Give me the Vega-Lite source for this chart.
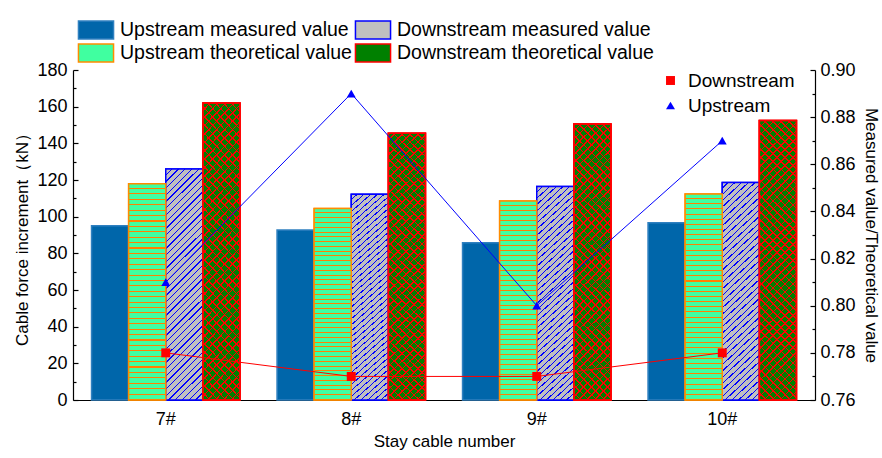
{
  "$schema": "https://vega.github.io/schema/vega-lite/v6.json",
  "width": 742,
  "height": 330,
  "autosize": {"type": "none"},
  "padding": {"left": 73, "top": 70, "right": 67, "bottom": 58},
  "background": "white",
  "config": {
    "font": "Liberation Sans",
    "view": {"stroke": null},
    "axis": {
      "labelFont": "Liberation Sans", "titleFont": "Liberation Sans",
      "labelFontSize": 18, "titleFontSize": 17, "labelColor": "black", "titleColor": "black",
      "titleFontWeight": "normal", "domainColor": "black", "tickColor": "black", "grid": false,
      "domainWidth": 1.2, "tickWidth": 1.2
    },
    "legend": {"labelFont": "Liberation Sans", "labelFontSize": 19.5, "labelColor": "black", "labelLimit": 400}
  },
  "datasets": {
    "force": [
      {"cable": "7#", "type": "Upstream measured value", "value": 95},
      {"cable": "7#", "type": "Upstream theoretical value", "value": 118},
      {"cable": "7#", "type": "Downstream measured value", "value": 126},
      {"cable": "7#", "type": "Downstream theoretical value", "value": 162},
      {"cable": "8#", "type": "Upstream measured value", "value": 92.7},
      {"cable": "8#", "type": "Upstream theoretical value", "value": 104.4},
      {"cable": "8#", "type": "Downstream measured value", "value": 112.2},
      {"cable": "8#", "type": "Downstream theoretical value", "value": 145.5},
      {"cable": "9#", "type": "Upstream measured value", "value": 85.8},
      {"cable": "9#", "type": "Upstream theoretical value", "value": 108.5},
      {"cable": "9#", "type": "Downstream measured value", "value": 116.4},
      {"cable": "9#", "type": "Downstream theoretical value", "value": 150.5},
      {"cable": "10#", "type": "Upstream measured value", "value": 96.7},
      {"cable": "10#", "type": "Upstream theoretical value", "value": 112.4},
      {"cable": "10#", "type": "Downstream measured value", "value": 118.7},
      {"cable": "10#", "type": "Downstream theoretical value", "value": 152.4}
    ],
    "ratio": [
      {"cable": "7#", "dir": "Downstream", "ratio": 0.78},
      {"cable": "8#", "dir": "Downstream", "ratio": 0.77},
      {"cable": "9#", "dir": "Downstream", "ratio": 0.77},
      {"cable": "10#", "dir": "Downstream", "ratio": 0.78},
      {"cable": "7#", "dir": "Upstream", "ratio": 0.81},
      {"cable": "8#", "dir": "Upstream", "ratio": 0.89},
      {"cable": "9#", "dir": "Upstream", "ratio": 0.80},
      {"cable": "10#", "dir": "Upstream", "ratio": 0.87}
    ]
  },
  "encoding": {
    "x": {
      "field": "cable", "type": "nominal", "sort": ["7#", "8#", "9#", "10#"],
      "scale": {"paddingInner": 0.2, "paddingOuter": 0.1},
      "axis": {"title": "Stay cable number", "labelAngle": 0, "tickSize": -5, "labelPadding": 15, "titlePadding": 5}
    }
  },
  "layer": [
    {
      "data": {"name": "force"},
      "encoding": {
        "xOffset": {"field": "type", "type": "nominal", "scale": {"domain": ["Upstream measured value", "Upstream theoretical value", "Downstream measured value", "Downstream theoretical value"], "paddingInner": 0, "paddingOuter": 0}},
        "y": {
          "field": "value", "type": "quantitative",
          "scale": {"domain": [0, 180], "nice": false},
          "axis": {"orient": "left", "title": "Cable force increment（kN）", "values": [0, 20, 40, 60, 80, 100, 120, 140, 160, 180], "tickSize": -5, "labelPadding": 11, "titlePadding": 5}
        }
      },
      "layer": [
        {
          "mark": {"type": "bar", "strokeWidth": 1.5},
          "encoding": {
            "fill": {
              "field": "type", "type": "nominal",
              "scale": {
                "domain": ["Upstream measured value", "Downstream measured value", "Upstream theoretical value", "Downstream theoretical value"],
                "range": ["#0066aa", "#c0c0c0", "#40ffa0", "#008000"]
              },
              "legend": {"title": null, "orient": "none", "legendX": 13, "legendY": -50, "direction": "horizontal", "columns": 2, "symbolType": "M-1.95,-1H1.95V1H-1.95Z", "symbolSize": 324, "symbolStrokeWidth": 1.5, "labelOffset": 14, "columnPadding": 0, "rowPadding": -1}
            },
            "stroke": {
              "field": "type", "type": "nominal",
              "scale": {
                "domain": ["Upstream measured value", "Downstream measured value", "Upstream theoretical value", "Downstream theoretical value"],
                "range": ["#2f80c0", "#0000ff", "#ff8c00", "#ff0000"]
              },
              "legend": {"title": null, "orient": "none", "legendX": 13, "legendY": -50, "direction": "horizontal", "columns": 2, "symbolType": "M-1.95,-1H1.95V1H-1.95Z", "symbolSize": 324, "symbolStrokeWidth": 1.5, "labelOffset": 14, "columnPadding": 0, "rowPadding": -1}
            }
          }
        },
        {
          "transform": [{"filter": "datum.type === 'Downstream measured value'"}],
          "mark": {"type": "bar", "stroke": "#0000ff", "strokeWidth": 1.5, "fill": {"gradient": "linear", "x1": 0, "y1": 0, "x2": 0.181, "y2": 1.131, "stops": [
{"offset":0,"color":"#c0c0c0"},{"offset":0.02,"color":"#c0c0c0"},{"offset":0.02,"color":"#00f"},{"offset":0.025,"color":"#00f"},
{"offset":0.025,"color":"#c0c0c0"},{"offset":0.045,"color":"#c0c0c0"},{"offset":0.045,"color":"#00f"},{"offset":0.05,"color":"#00f"},
{"offset":0.05,"color":"#c0c0c0"},{"offset":0.07,"color":"#c0c0c0"},{"offset":0.07,"color":"#00f"},{"offset":0.075,"color":"#00f"},
{"offset":0.075,"color":"#c0c0c0"},{"offset":0.095,"color":"#c0c0c0"},{"offset":0.095,"color":"#00f"},{"offset":0.1,"color":"#00f"},
{"offset":0.1,"color":"#c0c0c0"},{"offset":0.12,"color":"#c0c0c0"},{"offset":0.12,"color":"#00f"},{"offset":0.125,"color":"#00f"},
{"offset":0.125,"color":"#c0c0c0"},{"offset":0.145,"color":"#c0c0c0"},{"offset":0.145,"color":"#00f"},{"offset":0.15,"color":"#00f"},
{"offset":0.15,"color":"#c0c0c0"},{"offset":0.17,"color":"#c0c0c0"},{"offset":0.17,"color":"#00f"},{"offset":0.175,"color":"#00f"},
{"offset":0.175,"color":"#c0c0c0"},{"offset":0.195,"color":"#c0c0c0"},{"offset":0.195,"color":"#00f"},{"offset":0.2,"color":"#00f"},
{"offset":0.2,"color":"#c0c0c0"},{"offset":0.22,"color":"#c0c0c0"},{"offset":0.22,"color":"#00f"},{"offset":0.225,"color":"#00f"},
{"offset":0.225,"color":"#c0c0c0"},{"offset":0.245,"color":"#c0c0c0"},{"offset":0.245,"color":"#00f"},{"offset":0.25,"color":"#00f"},
{"offset":0.25,"color":"#c0c0c0"},{"offset":0.27,"color":"#c0c0c0"},{"offset":0.27,"color":"#00f"},{"offset":0.275,"color":"#00f"},
{"offset":0.275,"color":"#c0c0c0"},{"offset":0.295,"color":"#c0c0c0"},{"offset":0.295,"color":"#00f"},{"offset":0.3,"color":"#00f"},
{"offset":0.3,"color":"#c0c0c0"},{"offset":0.32,"color":"#c0c0c0"},{"offset":0.32,"color":"#00f"},{"offset":0.325,"color":"#00f"},
{"offset":0.325,"color":"#c0c0c0"},{"offset":0.345,"color":"#c0c0c0"},{"offset":0.345,"color":"#00f"},{"offset":0.35,"color":"#00f"},
{"offset":0.35,"color":"#c0c0c0"},{"offset":0.37,"color":"#c0c0c0"},{"offset":0.37,"color":"#00f"},{"offset":0.375,"color":"#00f"},
{"offset":0.375,"color":"#c0c0c0"},{"offset":0.395,"color":"#c0c0c0"},{"offset":0.395,"color":"#00f"},{"offset":0.4,"color":"#00f"},
{"offset":0.4,"color":"#c0c0c0"},{"offset":0.42,"color":"#c0c0c0"},{"offset":0.42,"color":"#00f"},{"offset":0.425,"color":"#00f"},
{"offset":0.425,"color":"#c0c0c0"},{"offset":0.445,"color":"#c0c0c0"},{"offset":0.445,"color":"#00f"},{"offset":0.45,"color":"#00f"},
{"offset":0.45,"color":"#c0c0c0"},{"offset":0.47,"color":"#c0c0c0"},{"offset":0.47,"color":"#00f"},{"offset":0.475,"color":"#00f"},
{"offset":0.475,"color":"#c0c0c0"},{"offset":0.495,"color":"#c0c0c0"},{"offset":0.495,"color":"#00f"},{"offset":0.5,"color":"#00f"},
{"offset":0.5,"color":"#c0c0c0"},{"offset":0.52,"color":"#c0c0c0"},{"offset":0.52,"color":"#00f"},{"offset":0.525,"color":"#00f"},
{"offset":0.525,"color":"#c0c0c0"},{"offset":0.545,"color":"#c0c0c0"},{"offset":0.545,"color":"#00f"},{"offset":0.55,"color":"#00f"},
{"offset":0.55,"color":"#c0c0c0"},{"offset":0.57,"color":"#c0c0c0"},{"offset":0.57,"color":"#00f"},{"offset":0.575,"color":"#00f"},
{"offset":0.575,"color":"#c0c0c0"},{"offset":0.595,"color":"#c0c0c0"},{"offset":0.595,"color":"#00f"},{"offset":0.6,"color":"#00f"},
{"offset":0.6,"color":"#c0c0c0"},{"offset":0.62,"color":"#c0c0c0"},{"offset":0.62,"color":"#00f"},{"offset":0.625,"color":"#00f"},
{"offset":0.625,"color":"#c0c0c0"},{"offset":0.645,"color":"#c0c0c0"},{"offset":0.645,"color":"#00f"},{"offset":0.65,"color":"#00f"},
{"offset":0.65,"color":"#c0c0c0"},{"offset":0.67,"color":"#c0c0c0"},{"offset":0.67,"color":"#00f"},{"offset":0.675,"color":"#00f"},
{"offset":0.675,"color":"#c0c0c0"},{"offset":0.695,"color":"#c0c0c0"},{"offset":0.695,"color":"#00f"},{"offset":0.7,"color":"#00f"},
{"offset":0.7,"color":"#c0c0c0"},{"offset":0.72,"color":"#c0c0c0"},{"offset":0.72,"color":"#00f"},{"offset":0.725,"color":"#00f"},
{"offset":0.725,"color":"#c0c0c0"},{"offset":0.745,"color":"#c0c0c0"},{"offset":0.745,"color":"#00f"},{"offset":0.75,"color":"#00f"},
{"offset":0.75,"color":"#c0c0c0"},{"offset":0.77,"color":"#c0c0c0"},{"offset":0.77,"color":"#00f"},{"offset":0.775,"color":"#00f"},
{"offset":0.775,"color":"#c0c0c0"},{"offset":0.795,"color":"#c0c0c0"},{"offset":0.795,"color":"#00f"},{"offset":0.8,"color":"#00f"},
{"offset":0.8,"color":"#c0c0c0"},{"offset":0.82,"color":"#c0c0c0"},{"offset":0.82,"color":"#00f"},{"offset":0.825,"color":"#00f"},
{"offset":0.825,"color":"#c0c0c0"},{"offset":0.845,"color":"#c0c0c0"},{"offset":0.845,"color":"#00f"},{"offset":0.85,"color":"#00f"},
{"offset":0.85,"color":"#c0c0c0"},{"offset":0.87,"color":"#c0c0c0"},{"offset":0.87,"color":"#00f"},{"offset":0.875,"color":"#00f"},
{"offset":0.875,"color":"#c0c0c0"},{"offset":0.895,"color":"#c0c0c0"},{"offset":0.895,"color":"#00f"},{"offset":0.9,"color":"#00f"},
{"offset":0.9,"color":"#c0c0c0"},{"offset":0.92,"color":"#c0c0c0"},{"offset":0.92,"color":"#00f"},{"offset":0.925,"color":"#00f"},
{"offset":0.925,"color":"#c0c0c0"},{"offset":0.945,"color":"#c0c0c0"},{"offset":0.945,"color":"#00f"},{"offset":0.95,"color":"#00f"},
{"offset":0.95,"color":"#c0c0c0"},{"offset":0.97,"color":"#c0c0c0"},{"offset":0.97,"color":"#00f"},{"offset":0.975,"color":"#00f"},
{"offset":0.975,"color":"#c0c0c0"},{"offset":0.995,"color":"#c0c0c0"},{"offset":0.995,"color":"#00f"},{"offset":1,"color":"#00f"}
          ]}}
        },
        {
          "transform": [{"filter": "datum.type === 'Upstream theoretical value'"}],
          "mark": {"type": "bar", "stroke": "#ff8c00", "strokeWidth": 1.5, "fill": {"gradient": "linear", "x1": 0, "y1": 0, "x2": 0, "y2": 1, "stops": [
{"offset":0,"color":"#40ffa0"},{"offset":0.02,"color":"#40ffa0"},{"offset":0.02,"color":"#ff8000"},{"offset":0.025,"color":"#ff8000"},
{"offset":0.025,"color":"#40ffa0"},{"offset":0.045,"color":"#40ffa0"},{"offset":0.045,"color":"#ff8000"},{"offset":0.05,"color":"#ff8000"},
{"offset":0.05,"color":"#40ffa0"},{"offset":0.07,"color":"#40ffa0"},{"offset":0.07,"color":"#ff8000"},{"offset":0.075,"color":"#ff8000"},
{"offset":0.075,"color":"#40ffa0"},{"offset":0.095,"color":"#40ffa0"},{"offset":0.095,"color":"#ff8000"},{"offset":0.1,"color":"#ff8000"},
{"offset":0.1,"color":"#40ffa0"},{"offset":0.12,"color":"#40ffa0"},{"offset":0.12,"color":"#ff8000"},{"offset":0.125,"color":"#ff8000"},
{"offset":0.125,"color":"#40ffa0"},{"offset":0.145,"color":"#40ffa0"},{"offset":0.145,"color":"#ff8000"},{"offset":0.15,"color":"#ff8000"},
{"offset":0.15,"color":"#40ffa0"},{"offset":0.17,"color":"#40ffa0"},{"offset":0.17,"color":"#ff8000"},{"offset":0.175,"color":"#ff8000"},
{"offset":0.175,"color":"#40ffa0"},{"offset":0.195,"color":"#40ffa0"},{"offset":0.195,"color":"#ff8000"},{"offset":0.2,"color":"#ff8000"},
{"offset":0.2,"color":"#40ffa0"},{"offset":0.22,"color":"#40ffa0"},{"offset":0.22,"color":"#ff8000"},{"offset":0.225,"color":"#ff8000"},
{"offset":0.225,"color":"#40ffa0"},{"offset":0.245,"color":"#40ffa0"},{"offset":0.245,"color":"#ff8000"},{"offset":0.25,"color":"#ff8000"},
{"offset":0.25,"color":"#40ffa0"},{"offset":0.27,"color":"#40ffa0"},{"offset":0.27,"color":"#ff8000"},{"offset":0.275,"color":"#ff8000"},
{"offset":0.275,"color":"#40ffa0"},{"offset":0.295,"color":"#40ffa0"},{"offset":0.295,"color":"#ff8000"},{"offset":0.3,"color":"#ff8000"},
{"offset":0.3,"color":"#40ffa0"},{"offset":0.32,"color":"#40ffa0"},{"offset":0.32,"color":"#ff8000"},{"offset":0.325,"color":"#ff8000"},
{"offset":0.325,"color":"#40ffa0"},{"offset":0.345,"color":"#40ffa0"},{"offset":0.345,"color":"#ff8000"},{"offset":0.35,"color":"#ff8000"},
{"offset":0.35,"color":"#40ffa0"},{"offset":0.37,"color":"#40ffa0"},{"offset":0.37,"color":"#ff8000"},{"offset":0.375,"color":"#ff8000"},
{"offset":0.375,"color":"#40ffa0"},{"offset":0.395,"color":"#40ffa0"},{"offset":0.395,"color":"#ff8000"},{"offset":0.4,"color":"#ff8000"},
{"offset":0.4,"color":"#40ffa0"},{"offset":0.42,"color":"#40ffa0"},{"offset":0.42,"color":"#ff8000"},{"offset":0.425,"color":"#ff8000"},
{"offset":0.425,"color":"#40ffa0"},{"offset":0.445,"color":"#40ffa0"},{"offset":0.445,"color":"#ff8000"},{"offset":0.45,"color":"#ff8000"},
{"offset":0.45,"color":"#40ffa0"},{"offset":0.47,"color":"#40ffa0"},{"offset":0.47,"color":"#ff8000"},{"offset":0.475,"color":"#ff8000"},
{"offset":0.475,"color":"#40ffa0"},{"offset":0.495,"color":"#40ffa0"},{"offset":0.495,"color":"#ff8000"},{"offset":0.5,"color":"#ff8000"},
{"offset":0.5,"color":"#40ffa0"},{"offset":0.52,"color":"#40ffa0"},{"offset":0.52,"color":"#ff8000"},{"offset":0.525,"color":"#ff8000"},
{"offset":0.525,"color":"#40ffa0"},{"offset":0.545,"color":"#40ffa0"},{"offset":0.545,"color":"#ff8000"},{"offset":0.55,"color":"#ff8000"},
{"offset":0.55,"color":"#40ffa0"},{"offset":0.57,"color":"#40ffa0"},{"offset":0.57,"color":"#ff8000"},{"offset":0.575,"color":"#ff8000"},
{"offset":0.575,"color":"#40ffa0"},{"offset":0.595,"color":"#40ffa0"},{"offset":0.595,"color":"#ff8000"},{"offset":0.6,"color":"#ff8000"},
{"offset":0.6,"color":"#40ffa0"},{"offset":0.62,"color":"#40ffa0"},{"offset":0.62,"color":"#ff8000"},{"offset":0.625,"color":"#ff8000"},
{"offset":0.625,"color":"#40ffa0"},{"offset":0.645,"color":"#40ffa0"},{"offset":0.645,"color":"#ff8000"},{"offset":0.65,"color":"#ff8000"},
{"offset":0.65,"color":"#40ffa0"},{"offset":0.67,"color":"#40ffa0"},{"offset":0.67,"color":"#ff8000"},{"offset":0.675,"color":"#ff8000"},
{"offset":0.675,"color":"#40ffa0"},{"offset":0.695,"color":"#40ffa0"},{"offset":0.695,"color":"#ff8000"},{"offset":0.7,"color":"#ff8000"},
{"offset":0.7,"color":"#40ffa0"},{"offset":0.72,"color":"#40ffa0"},{"offset":0.72,"color":"#ff8000"},{"offset":0.725,"color":"#ff8000"},
{"offset":0.725,"color":"#40ffa0"},{"offset":0.745,"color":"#40ffa0"},{"offset":0.745,"color":"#ff8000"},{"offset":0.75,"color":"#ff8000"},
{"offset":0.75,"color":"#40ffa0"},{"offset":0.77,"color":"#40ffa0"},{"offset":0.77,"color":"#ff8000"},{"offset":0.775,"color":"#ff8000"},
{"offset":0.775,"color":"#40ffa0"},{"offset":0.795,"color":"#40ffa0"},{"offset":0.795,"color":"#ff8000"},{"offset":0.8,"color":"#ff8000"},
{"offset":0.8,"color":"#40ffa0"},{"offset":0.82,"color":"#40ffa0"},{"offset":0.82,"color":"#ff8000"},{"offset":0.825,"color":"#ff8000"},
{"offset":0.825,"color":"#40ffa0"},{"offset":0.845,"color":"#40ffa0"},{"offset":0.845,"color":"#ff8000"},{"offset":0.85,"color":"#ff8000"},
{"offset":0.85,"color":"#40ffa0"},{"offset":0.87,"color":"#40ffa0"},{"offset":0.87,"color":"#ff8000"},{"offset":0.875,"color":"#ff8000"},
{"offset":0.875,"color":"#40ffa0"},{"offset":0.895,"color":"#40ffa0"},{"offset":0.895,"color":"#ff8000"},{"offset":0.9,"color":"#ff8000"},
{"offset":0.9,"color":"#40ffa0"},{"offset":0.92,"color":"#40ffa0"},{"offset":0.92,"color":"#ff8000"},{"offset":0.925,"color":"#ff8000"},
{"offset":0.925,"color":"#40ffa0"},{"offset":0.945,"color":"#40ffa0"},{"offset":0.945,"color":"#ff8000"},{"offset":0.95,"color":"#ff8000"},
{"offset":0.95,"color":"#40ffa0"},{"offset":0.97,"color":"#40ffa0"},{"offset":0.97,"color":"#ff8000"},{"offset":0.975,"color":"#ff8000"},
{"offset":0.975,"color":"#40ffa0"},{"offset":0.995,"color":"#40ffa0"},{"offset":0.995,"color":"#ff8000"},{"offset":1,"color":"#ff8000"}
          ]}}
        },
        {
          "transform": [{"filter": "datum.type === 'Downstream theoretical value'"}],
          "mark": {"type": "bar", "stroke": "#ff0000", "strokeWidth": 1.5, "fill": {"gradient": "linear", "x1": 0, "y1": 0, "x2": 0.147, "y2": 1.113, "stops": [
{"offset":0,"color":"#008000"},{"offset":0.02,"color":"#008000"},{"offset":0.02,"color":"#f00"},{"offset":0.025,"color":"#f00"},
{"offset":0.025,"color":"#008000"},{"offset":0.045,"color":"#008000"},{"offset":0.045,"color":"#f00"},{"offset":0.05,"color":"#f00"},
{"offset":0.05,"color":"#008000"},{"offset":0.07,"color":"#008000"},{"offset":0.07,"color":"#f00"},{"offset":0.075,"color":"#f00"},
{"offset":0.075,"color":"#008000"},{"offset":0.095,"color":"#008000"},{"offset":0.095,"color":"#f00"},{"offset":0.1,"color":"#f00"},
{"offset":0.1,"color":"#008000"},{"offset":0.12,"color":"#008000"},{"offset":0.12,"color":"#f00"},{"offset":0.125,"color":"#f00"},
{"offset":0.125,"color":"#008000"},{"offset":0.145,"color":"#008000"},{"offset":0.145,"color":"#f00"},{"offset":0.15,"color":"#f00"},
{"offset":0.15,"color":"#008000"},{"offset":0.17,"color":"#008000"},{"offset":0.17,"color":"#f00"},{"offset":0.175,"color":"#f00"},
{"offset":0.175,"color":"#008000"},{"offset":0.195,"color":"#008000"},{"offset":0.195,"color":"#f00"},{"offset":0.2,"color":"#f00"},
{"offset":0.2,"color":"#008000"},{"offset":0.22,"color":"#008000"},{"offset":0.22,"color":"#f00"},{"offset":0.225,"color":"#f00"},
{"offset":0.225,"color":"#008000"},{"offset":0.245,"color":"#008000"},{"offset":0.245,"color":"#f00"},{"offset":0.25,"color":"#f00"},
{"offset":0.25,"color":"#008000"},{"offset":0.27,"color":"#008000"},{"offset":0.27,"color":"#f00"},{"offset":0.275,"color":"#f00"},
{"offset":0.275,"color":"#008000"},{"offset":0.295,"color":"#008000"},{"offset":0.295,"color":"#f00"},{"offset":0.3,"color":"#f00"},
{"offset":0.3,"color":"#008000"},{"offset":0.32,"color":"#008000"},{"offset":0.32,"color":"#f00"},{"offset":0.325,"color":"#f00"},
{"offset":0.325,"color":"#008000"},{"offset":0.345,"color":"#008000"},{"offset":0.345,"color":"#f00"},{"offset":0.35,"color":"#f00"},
{"offset":0.35,"color":"#008000"},{"offset":0.37,"color":"#008000"},{"offset":0.37,"color":"#f00"},{"offset":0.375,"color":"#f00"},
{"offset":0.375,"color":"#008000"},{"offset":0.395,"color":"#008000"},{"offset":0.395,"color":"#f00"},{"offset":0.4,"color":"#f00"},
{"offset":0.4,"color":"#008000"},{"offset":0.42,"color":"#008000"},{"offset":0.42,"color":"#f00"},{"offset":0.425,"color":"#f00"},
{"offset":0.425,"color":"#008000"},{"offset":0.445,"color":"#008000"},{"offset":0.445,"color":"#f00"},{"offset":0.45,"color":"#f00"},
{"offset":0.45,"color":"#008000"},{"offset":0.47,"color":"#008000"},{"offset":0.47,"color":"#f00"},{"offset":0.475,"color":"#f00"},
{"offset":0.475,"color":"#008000"},{"offset":0.495,"color":"#008000"},{"offset":0.495,"color":"#f00"},{"offset":0.5,"color":"#f00"},
{"offset":0.5,"color":"#008000"},{"offset":0.52,"color":"#008000"},{"offset":0.52,"color":"#f00"},{"offset":0.525,"color":"#f00"},
{"offset":0.525,"color":"#008000"},{"offset":0.545,"color":"#008000"},{"offset":0.545,"color":"#f00"},{"offset":0.55,"color":"#f00"},
{"offset":0.55,"color":"#008000"},{"offset":0.57,"color":"#008000"},{"offset":0.57,"color":"#f00"},{"offset":0.575,"color":"#f00"},
{"offset":0.575,"color":"#008000"},{"offset":0.595,"color":"#008000"},{"offset":0.595,"color":"#f00"},{"offset":0.6,"color":"#f00"},
{"offset":0.6,"color":"#008000"},{"offset":0.62,"color":"#008000"},{"offset":0.62,"color":"#f00"},{"offset":0.625,"color":"#f00"},
{"offset":0.625,"color":"#008000"},{"offset":0.645,"color":"#008000"},{"offset":0.645,"color":"#f00"},{"offset":0.65,"color":"#f00"},
{"offset":0.65,"color":"#008000"},{"offset":0.67,"color":"#008000"},{"offset":0.67,"color":"#f00"},{"offset":0.675,"color":"#f00"},
{"offset":0.675,"color":"#008000"},{"offset":0.695,"color":"#008000"},{"offset":0.695,"color":"#f00"},{"offset":0.7,"color":"#f00"},
{"offset":0.7,"color":"#008000"},{"offset":0.72,"color":"#008000"},{"offset":0.72,"color":"#f00"},{"offset":0.725,"color":"#f00"},
{"offset":0.725,"color":"#008000"},{"offset":0.745,"color":"#008000"},{"offset":0.745,"color":"#f00"},{"offset":0.75,"color":"#f00"},
{"offset":0.75,"color":"#008000"},{"offset":0.77,"color":"#008000"},{"offset":0.77,"color":"#f00"},{"offset":0.775,"color":"#f00"},
{"offset":0.775,"color":"#008000"},{"offset":0.795,"color":"#008000"},{"offset":0.795,"color":"#f00"},{"offset":0.8,"color":"#f00"},
{"offset":0.8,"color":"#008000"},{"offset":0.82,"color":"#008000"},{"offset":0.82,"color":"#f00"},{"offset":0.825,"color":"#f00"},
{"offset":0.825,"color":"#008000"},{"offset":0.845,"color":"#008000"},{"offset":0.845,"color":"#f00"},{"offset":0.85,"color":"#f00"},
{"offset":0.85,"color":"#008000"},{"offset":0.87,"color":"#008000"},{"offset":0.87,"color":"#f00"},{"offset":0.875,"color":"#f00"},
{"offset":0.875,"color":"#008000"},{"offset":0.895,"color":"#008000"},{"offset":0.895,"color":"#f00"},{"offset":0.9,"color":"#f00"},
{"offset":0.9,"color":"#008000"},{"offset":0.92,"color":"#008000"},{"offset":0.92,"color":"#f00"},{"offset":0.925,"color":"#f00"},
{"offset":0.925,"color":"#008000"},{"offset":0.945,"color":"#008000"},{"offset":0.945,"color":"#f00"},{"offset":0.95,"color":"#f00"},
{"offset":0.95,"color":"#008000"},{"offset":0.97,"color":"#008000"},{"offset":0.97,"color":"#f00"},{"offset":0.975,"color":"#f00"},
{"offset":0.975,"color":"#008000"},{"offset":0.995,"color":"#008000"},{"offset":0.995,"color":"#f00"},{"offset":1,"color":"#f00"}
          ]}}
        },
        {
          "transform": [{"filter": "datum.type === 'Downstream theoretical value'"}],
          "mark": {"type": "bar", "stroke": "#ff0000", "strokeWidth": 1.5, "fill": {"gradient": "linear", "x1": 0, "y1": 1, "x2": 0.147, "y2": -0.113, "stops": [
{"offset":0,"color":"rgba(0,0,0,0)"},{"offset":0.02,"color":"rgba(0,0,0,0)"},{"offset":0.02,"color":"#f00"},{"offset":0.025,"color":"#f00"},
{"offset":0.025,"color":"rgba(0,0,0,0)"},{"offset":0.045,"color":"rgba(0,0,0,0)"},{"offset":0.045,"color":"#f00"},{"offset":0.05,"color":"#f00"},
{"offset":0.05,"color":"rgba(0,0,0,0)"},{"offset":0.07,"color":"rgba(0,0,0,0)"},{"offset":0.07,"color":"#f00"},{"offset":0.075,"color":"#f00"},
{"offset":0.075,"color":"rgba(0,0,0,0)"},{"offset":0.095,"color":"rgba(0,0,0,0)"},{"offset":0.095,"color":"#f00"},{"offset":0.1,"color":"#f00"},
{"offset":0.1,"color":"rgba(0,0,0,0)"},{"offset":0.12,"color":"rgba(0,0,0,0)"},{"offset":0.12,"color":"#f00"},{"offset":0.125,"color":"#f00"},
{"offset":0.125,"color":"rgba(0,0,0,0)"},{"offset":0.145,"color":"rgba(0,0,0,0)"},{"offset":0.145,"color":"#f00"},{"offset":0.15,"color":"#f00"},
{"offset":0.15,"color":"rgba(0,0,0,0)"},{"offset":0.17,"color":"rgba(0,0,0,0)"},{"offset":0.17,"color":"#f00"},{"offset":0.175,"color":"#f00"},
{"offset":0.175,"color":"rgba(0,0,0,0)"},{"offset":0.195,"color":"rgba(0,0,0,0)"},{"offset":0.195,"color":"#f00"},{"offset":0.2,"color":"#f00"},
{"offset":0.2,"color":"rgba(0,0,0,0)"},{"offset":0.22,"color":"rgba(0,0,0,0)"},{"offset":0.22,"color":"#f00"},{"offset":0.225,"color":"#f00"},
{"offset":0.225,"color":"rgba(0,0,0,0)"},{"offset":0.245,"color":"rgba(0,0,0,0)"},{"offset":0.245,"color":"#f00"},{"offset":0.25,"color":"#f00"},
{"offset":0.25,"color":"rgba(0,0,0,0)"},{"offset":0.27,"color":"rgba(0,0,0,0)"},{"offset":0.27,"color":"#f00"},{"offset":0.275,"color":"#f00"},
{"offset":0.275,"color":"rgba(0,0,0,0)"},{"offset":0.295,"color":"rgba(0,0,0,0)"},{"offset":0.295,"color":"#f00"},{"offset":0.3,"color":"#f00"},
{"offset":0.3,"color":"rgba(0,0,0,0)"},{"offset":0.32,"color":"rgba(0,0,0,0)"},{"offset":0.32,"color":"#f00"},{"offset":0.325,"color":"#f00"},
{"offset":0.325,"color":"rgba(0,0,0,0)"},{"offset":0.345,"color":"rgba(0,0,0,0)"},{"offset":0.345,"color":"#f00"},{"offset":0.35,"color":"#f00"},
{"offset":0.35,"color":"rgba(0,0,0,0)"},{"offset":0.37,"color":"rgba(0,0,0,0)"},{"offset":0.37,"color":"#f00"},{"offset":0.375,"color":"#f00"},
{"offset":0.375,"color":"rgba(0,0,0,0)"},{"offset":0.395,"color":"rgba(0,0,0,0)"},{"offset":0.395,"color":"#f00"},{"offset":0.4,"color":"#f00"},
{"offset":0.4,"color":"rgba(0,0,0,0)"},{"offset":0.42,"color":"rgba(0,0,0,0)"},{"offset":0.42,"color":"#f00"},{"offset":0.425,"color":"#f00"},
{"offset":0.425,"color":"rgba(0,0,0,0)"},{"offset":0.445,"color":"rgba(0,0,0,0)"},{"offset":0.445,"color":"#f00"},{"offset":0.45,"color":"#f00"},
{"offset":0.45,"color":"rgba(0,0,0,0)"},{"offset":0.47,"color":"rgba(0,0,0,0)"},{"offset":0.47,"color":"#f00"},{"offset":0.475,"color":"#f00"},
{"offset":0.475,"color":"rgba(0,0,0,0)"},{"offset":0.495,"color":"rgba(0,0,0,0)"},{"offset":0.495,"color":"#f00"},{"offset":0.5,"color":"#f00"},
{"offset":0.5,"color":"rgba(0,0,0,0)"},{"offset":0.52,"color":"rgba(0,0,0,0)"},{"offset":0.52,"color":"#f00"},{"offset":0.525,"color":"#f00"},
{"offset":0.525,"color":"rgba(0,0,0,0)"},{"offset":0.545,"color":"rgba(0,0,0,0)"},{"offset":0.545,"color":"#f00"},{"offset":0.55,"color":"#f00"},
{"offset":0.55,"color":"rgba(0,0,0,0)"},{"offset":0.57,"color":"rgba(0,0,0,0)"},{"offset":0.57,"color":"#f00"},{"offset":0.575,"color":"#f00"},
{"offset":0.575,"color":"rgba(0,0,0,0)"},{"offset":0.595,"color":"rgba(0,0,0,0)"},{"offset":0.595,"color":"#f00"},{"offset":0.6,"color":"#f00"},
{"offset":0.6,"color":"rgba(0,0,0,0)"},{"offset":0.62,"color":"rgba(0,0,0,0)"},{"offset":0.62,"color":"#f00"},{"offset":0.625,"color":"#f00"},
{"offset":0.625,"color":"rgba(0,0,0,0)"},{"offset":0.645,"color":"rgba(0,0,0,0)"},{"offset":0.645,"color":"#f00"},{"offset":0.65,"color":"#f00"},
{"offset":0.65,"color":"rgba(0,0,0,0)"},{"offset":0.67,"color":"rgba(0,0,0,0)"},{"offset":0.67,"color":"#f00"},{"offset":0.675,"color":"#f00"},
{"offset":0.675,"color":"rgba(0,0,0,0)"},{"offset":0.695,"color":"rgba(0,0,0,0)"},{"offset":0.695,"color":"#f00"},{"offset":0.7,"color":"#f00"},
{"offset":0.7,"color":"rgba(0,0,0,0)"},{"offset":0.72,"color":"rgba(0,0,0,0)"},{"offset":0.72,"color":"#f00"},{"offset":0.725,"color":"#f00"},
{"offset":0.725,"color":"rgba(0,0,0,0)"},{"offset":0.745,"color":"rgba(0,0,0,0)"},{"offset":0.745,"color":"#f00"},{"offset":0.75,"color":"#f00"},
{"offset":0.75,"color":"rgba(0,0,0,0)"},{"offset":0.77,"color":"rgba(0,0,0,0)"},{"offset":0.77,"color":"#f00"},{"offset":0.775,"color":"#f00"},
{"offset":0.775,"color":"rgba(0,0,0,0)"},{"offset":0.795,"color":"rgba(0,0,0,0)"},{"offset":0.795,"color":"#f00"},{"offset":0.8,"color":"#f00"},
{"offset":0.8,"color":"rgba(0,0,0,0)"},{"offset":0.82,"color":"rgba(0,0,0,0)"},{"offset":0.82,"color":"#f00"},{"offset":0.825,"color":"#f00"},
{"offset":0.825,"color":"rgba(0,0,0,0)"},{"offset":0.845,"color":"rgba(0,0,0,0)"},{"offset":0.845,"color":"#f00"},{"offset":0.85,"color":"#f00"},
{"offset":0.85,"color":"rgba(0,0,0,0)"},{"offset":0.87,"color":"rgba(0,0,0,0)"},{"offset":0.87,"color":"#f00"},{"offset":0.875,"color":"#f00"},
{"offset":0.875,"color":"rgba(0,0,0,0)"},{"offset":0.895,"color":"rgba(0,0,0,0)"},{"offset":0.895,"color":"#f00"},{"offset":0.9,"color":"#f00"},
{"offset":0.9,"color":"rgba(0,0,0,0)"},{"offset":0.92,"color":"rgba(0,0,0,0)"},{"offset":0.92,"color":"#f00"},{"offset":0.925,"color":"#f00"},
{"offset":0.925,"color":"rgba(0,0,0,0)"},{"offset":0.945,"color":"rgba(0,0,0,0)"},{"offset":0.945,"color":"#f00"},{"offset":0.95,"color":"#f00"},
{"offset":0.95,"color":"rgba(0,0,0,0)"},{"offset":0.97,"color":"rgba(0,0,0,0)"},{"offset":0.97,"color":"#f00"},{"offset":0.975,"color":"#f00"},
{"offset":0.975,"color":"rgba(0,0,0,0)"},{"offset":0.995,"color":"rgba(0,0,0,0)"},{"offset":0.995,"color":"#f00"},{"offset":1,"color":"#f00"}
          ]}}
        }
      ]
    },
    {
      "data": {"name": "force"},
      "mark": {"type": "point", "opacity": 0},
      "encoding": {
        "y": {
          "field": "value", "type": "quantitative",
          "scale": {"domain": [0, 180], "nice": false},
          "axis": {"orient": "left", "title": null, "labels": false, "domain": false, "values": [10, 30, 50, 70, 90, 110, 130, 150, 170], "tickSize": -3}
        }
      }
    },
    {
      "data": {"name": "ratio"},
      "encoding": {
        "y": {
          "field": "ratio", "type": "quantitative",
          "scale": {"domain": [0.76, 0.9], "nice": false, "zero": false},
          "axis": {"orient": "right", "title": "Measured value/Theoretical value", "values": [0.76, 0.78, 0.8, 0.82, 0.84, 0.86, 0.88, 0.9], "format": ".2f", "tickSize": -5, "labelPadding": 10, "titlePadding": 6}
        },
        "color": {
          "field": "dir", "type": "nominal",
          "scale": {"domain": ["Downstream", "Upstream"], "range": ["#ff0000", "#0000ff"]},
          "legend": {"title": null, "orient": "none", "legendX": 588, "legendY": 1, "labelOffset": 8, "labelFontSize": 19, "rowPadding": 5, "symbolSize": 80, "symbolStrokeWidth": 0}
        }
      },
      "layer": [
        {"mark": {"type": "line", "strokeWidth": 1}},
        {
          "mark": {"type": "point", "filled": true, "opacity": 1, "size": 80},
          "encoding": {
            "shape": {
              "field": "dir", "type": "nominal",
              "scale": {"domain": ["Downstream", "Upstream"], "range": ["square", "triangle-up"]},
              "legend": {"title": null, "orient": "none", "legendX": 588, "legendY": 1, "labelOffset": 8, "labelFontSize": 19, "rowPadding": 5, "symbolSize": 80, "symbolStrokeWidth": 0}
            }
          }
        }
      ]
    },
    {
      "data": {"name": "ratio"},
      "mark": {"type": "point", "opacity": 0},
      "encoding": {
        "y": {
          "field": "ratio", "type": "quantitative",
          "scale": {"domain": [0.76, 0.9], "nice": false, "zero": false},
          "axis": {"orient": "right", "title": null, "labels": false, "domain": false, "values": [0.77, 0.79, 0.81, 0.83, 0.85, 0.87, 0.89], "tickSize": -3}
        }
      }
    }
  ],
  "resolve": {"scale": {"y": "independent"}}
}
